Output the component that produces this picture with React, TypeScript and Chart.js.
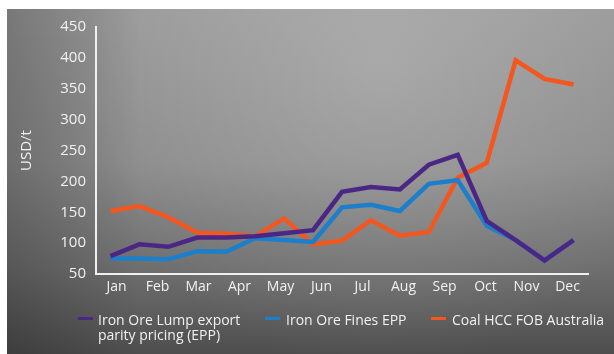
import React, { useEffect, useRef } from "react";
import { Chart, registerables } from "chart.js";

Chart.register(...registerables);

const months = ["Jan", "Feb", "Mar", "Apr", "May", "Jun", "Jul", "Aug", "Sep", "Oct", "Nov", "Dec"];
const yTicks = [50, 100, 150, 200, 250, 300, 350, 400, 450];

// 17 evenly spaced observations across the year
const lumpEPP = [79, 98, 94, 109, 109, 111, 116, 121, 183, 191, 187, 227, 243, 136, 105, 72, 105];
const finesEPP = [75, 75, 74, 87, 86, 108, 105, 102, 158, 162, 152, 196, 202, 128, 105, 72, 105];
const coalHCC = [152, 160, 142, 117, 115, 111, 140, 98, 104, 137, 112, 118, 206, 230, 396, 366, 357];

const seriesNames = ["Iron Ore Lump export parity pricing (EPP)", "Iron Ore Fines EPP", "Coal HCC FOB Australia"];
const seriesColors = ["#4b2785", "#1b7fcb", "#f4561f"];

const FONT = "'Open Sans', 'Noto Sans', sans-serif";
const TXT = "#f1f1f1";

const bgPlugin = {
  id: "bgTexture",
  beforeDraw(chart: any) {
    const ctx = chart.ctx as CanvasRenderingContext2D;
    const W = chart.width;
    const H = chart.height;
    ctx.save();
    ctx.fillStyle = "#ffffff";
    ctx.fillRect(0, 0, W, H);
    const x0 = 7, y0 = 9;
    const w = W - x0, h = H - y0;
    const g = ctx.createLinearGradient(0, y0, 0, H);
    g.addColorStop(0, "#9a9a9a");
    g.addColorStop(0.45, "#8c8c8c");
    g.addColorStop(0.75, "#6f6f6f");
    g.addColorStop(1, "#4e4e4e");
    ctx.fillStyle = g;
    ctx.fillRect(x0, y0, w, h);
    const r = ctx.createRadialGradient(380, 70, 10, 380, 70, 300);
    r.addColorStop(0, "rgba(255,255,255,0.18)");
    r.addColorStop(1, "rgba(255,255,255,0)");
    ctx.fillStyle = r;
    ctx.fillRect(x0, y0, w, h);
    const l = ctx.createLinearGradient(x0, 0, 140, 0);
    l.addColorStop(0, "rgba(0,0,0,0.22)");
    l.addColorStop(1, "rgba(0,0,0,0)");
    ctx.fillStyle = l;
    ctx.fillRect(x0, y0, w, h);
    ctx.restore();
  },
};

export default function App() {
  const ref = useRef<HTMLCanvasElement>(null);
  useEffect(() => {
    if (!ref.current) return;
    const mk = (vals: number[]) => vals.map((v, i) => ({ x: i, y: v }));
    const all = [lumpEPP, finesEPP, coalHCC];
    const chart = new Chart(ref.current, {
      type: "line",
      data: {
        datasets: all.map((vals, i) => ({
          label: seriesNames[i],
          data: mk(vals),
          borderColor: seriesColors[i],
          backgroundColor: seriesColors[i],
          borderWidth: 4.5,
          pointRadius: 0,
          tension: 0,
          fill: false,
          xAxisID: "xd",
          yAxisID: "y",
        })),
      },
      options: {
        animation: false,
        responsive: false,
        maintainAspectRatio: false,
        events: [],
        layout: { padding: { top: 27, right: 26, left: 0, bottom: 0 } },
        plugins: { legend: { display: false }, tooltip: { enabled: false } },
        scales: {
          x: {
            type: "category",
            labels: months,
            offset: true,
            position: "bottom",
            grid: { display: false, drawTicks: false },
            border: { display: true, color: "#f0f0f0", width: 2 },
            ticks: { color: TXT, font: { family: FONT, size: 14 }, padding: 5, maxRotation: 0, autoSkip: false },
            afterFit: (s: any) => { s.height = 80; },
          },
          xd: {
            type: "linear",
            display: false,
            min: -0.5,
            max: 16.5,
          },
          y: {
            type: "linear",
            min: 50,
            max: 450,
            position: "left",
            grid: { display: false, drawTicks: false },
            border: { display: true, color: "#f0f0f0", width: 2 },
            afterBuildTicks: (s: any) => { s.ticks = yTicks.map((v) => ({ value: v })); },
            ticks: { color: TXT, font: { family: FONT, size: 15 }, padding: 10 },
            title: {
              display: true,
              text: "USD/t",
              color: TXT,
              font: { family: FONT, size: 15 },
              padding: { top: 18, bottom: 0 },
            },
            afterFit: (s: any) => { s.width = 96; },
          },
        },
      },
      plugins: [bgPlugin],
    } as any);
    return () => chart.destroy();
  }, []);

  const legend = [
    { marker: 78, text: 98, lines: ["Iron Ore Lump export", "parity pricing (EPP)"] },
    { marker: 265, text: 286, lines: ["Iron Ore Fines EPP"] },
    { marker: 431, text: 452, lines: ["Coal HCC FOB Australia"] },
  ];

  return (
    <div style={{ position: "absolute", left: 0, top: 0, width: 614, height: 354 }}>
      <canvas ref={ref} width={614} height={354} style={{ display: "block", width: 614, height: 354 }} />
      {legend.map((it, i) => (
        <React.Fragment key={i}>
          <div
            style={{
              position: "absolute",
              left: it.marker,
              top: 317,
              width: 15,
              height: 3,
              background: seriesColors[i],
            }}
          />
          <div
            style={{
              position: "absolute",
              left: it.text,
              top: 312,
              fontFamily: FONT,
              fontSize: 14,
              lineHeight: "15px",
              color: TXT,
              whiteSpace: "nowrap",
            }}
          >
            {it.lines.map((ln, j) => (
              <div key={j}>{ln}</div>
            ))}
          </div>
        </React.Fragment>
      ))}
    </div>
  );
}
